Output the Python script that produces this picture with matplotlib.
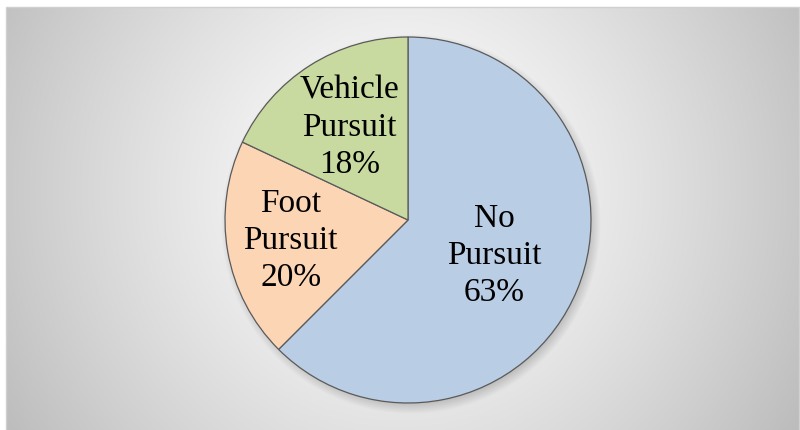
import numpy as np
import matplotlib
matplotlib.use("Agg")
import matplotlib.pyplot as plt

labels = ["No\nPursuit", "Foot\nPursuit", "Vehicle\nPursuit"]
shares = [62.5, 19.5, 18.0]
pct_text = ["63%", "20%", "18%"]
colors = ["#b9cde5", "#fcd5b5", "#c8da9f"]
label_dist = [0.51, 0.65, 0.60]

W, H = 800, 430
CX, CY, R = 408, 220, 183

fig = plt.figure(figsize=(W / 100, H / 100), dpi=100)
fig.patch.set_facecolor("white")

# background: radial grey gradient plus a soft shadow under the pie
bg = fig.add_axes([0, 0, 1, 1])
bg.set_xlim(0, W)
bg.set_ylim(H, 0)
bg.axis("off")
x0, y0, x1, y1 = 6, 7, 799, 432
xx, yy = np.meshgrid(np.arange(x0, x1) + 0.5, np.arange(y0, y1) + 0.5)
d = np.hypot(xx - 400, yy - 190) / 460.0
gray = 1.0 - 0.26 * d ** 1.3
sd = np.hypot(xx - (CX + 3), yy - (CY + 4))
shadow = 0.22 * np.clip((R + 7 - sd) / 14.0, 0, 1)
gray = gray * (1 - shadow)
img = np.dstack([gray, gray, gray])
bg.imshow(img, extent=(x0, x1, y1, y0), interpolation="bilinear", zorder=0)
bg.add_patch(plt.Rectangle((x0, y0), x1 - x0, y1 - y0, fill=False,
                           edgecolor="#d0d0d0", lw=1.0, zorder=1))

# pie axes, square, centred on the pie centre
S = 500
ax = fig.add_axes([(CX - S / 2) / W, (H - CY - S / 2) / H, S / W, S / H])
wedges, _ = ax.pie(shares, colors=colors, startangle=90, counterclock=False,
                   radius=1.0, wedgeprops=dict(edgecolor="#5a5a5a", linewidth=0.9))
lim = (S / 2) / R
ax.set_xlim(-lim, lim)
ax.set_ylim(-lim, lim)
ax.set_aspect("equal")
ax.patch.set_alpha(0)

for w, lab, pct, rd in zip(wedges, labels, pct_text, label_dist):
    ang = np.deg2rad((w.theta1 + w.theta2) / 2)
    ax.text(rd * np.cos(ang), rd * np.sin(ang), f"{lab}\n{pct}",
            ha="center", va="center", fontsize=24, family="Liberation Serif",
            color="black", linespacing=1.28)

fig.savefig("out.png", dpi=100)
